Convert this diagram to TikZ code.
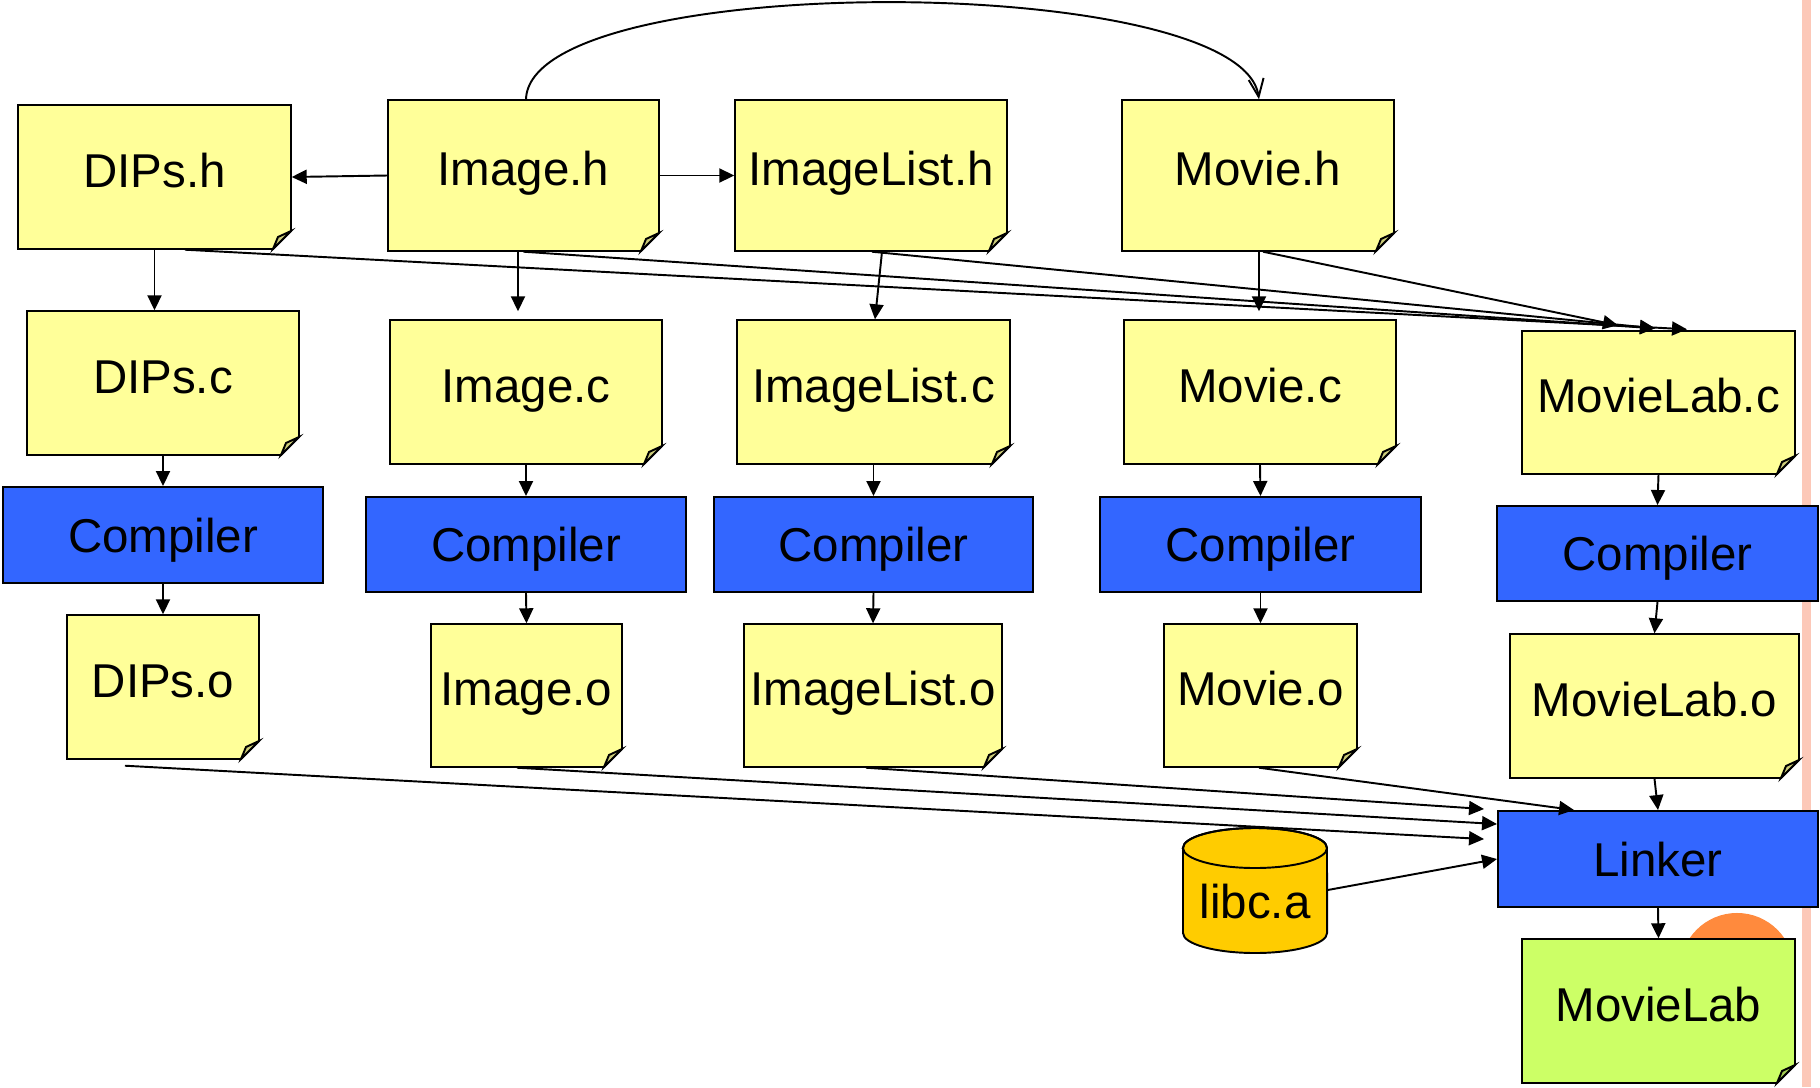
\documentclass[tikz,border=0pt]{standalone}
\usepackage{fontspec}
\setmainfont{Liberation Sans}
\usetikzlibrary{arrows.meta,calc}
\definecolor{noteY}{HTML}{FFFF99}
\definecolor{noteG}{HTML}{CCFF66}
\definecolor{procB}{HTML}{3366FF}
\definecolor{libcY}{HTML}{FFCC00}
\definecolor{orangeC}{HTML}{FF8A3D}
\definecolor{pinkband}{HTML}{FCC8B8}
\tikzset{
  boxline/.style={draw=black, line width=0.55pt, line join=miter},
  lbl/.style={inner sep=0pt, text height=9.7pt, text depth=0pt, font=\fontsize{13.5}{16}\selectfont},
  proc/.style={boxline, fill=procB, inner sep=0pt, text height=9.7pt, text depth=0pt, font=\fontsize{13.5}{16}\selectfont},
  link/.style={line width=0.55pt, -{Triangle[length=0.15cm,width=0.14cm]}},
  barb/.style={line width=0.55pt, -{Straight Barb[length=0.18cm,width=0.15cm]}},
}
% name, x1, y1, x2, y2, fill, text
\newcommand\notebox[7]{%
  \filldraw[boxline, fill=#6] (#2,#3) -- (#4,#3) -- (#4,{#5-18}) -- ({#4-18},#5) -- (#2,#5) -- cycle;
  \filldraw[boxline, fill=#6!80!black] ({#4-18},#5) -- ({#4-13},{#5-12}) -- (#4,{#5-18}) -- cycle;
  \node[inner sep=0pt, minimum width={(#4-#2)*0.01cm}, minimum height={(#5-#3)*0.01cm}] (#1) at ({(#2+#4)/2},{(#3+#5)/2}) {};
  \node[lbl] (#1-t) at ({(#2+#4)/2},{(#3+#5)/2-7}) {#7};
}
\newcommand\procnode[6]{%
  \node[proc, minimum width={(#4-#2)*0.01cm}, minimum height={(#5-#3)*0.01cm}] (#1) at ({(#2+#4)/2},{(#3+#5)/2}) {#6};
}
\begin{document}
\begin{tikzpicture}[x=0.01cm, y=-0.01cm]
\useasboundingbox (0,0) rectangle (1820,1087);
\fill[pinkband] (1802,0) rectangle (1811,1087);

% top row: headers
\notebox{dipsh}{18}{105}{291}{249}{noteY}{DIPs.h}
\notebox{imgh}{388}{100}{659}{251}{noteY}{Image.h}
\notebox{imglh}{735}{100}{1007}{251}{noteY}{ImageList.h}
\notebox{movh}{1122}{100}{1394}{251}{noteY}{Movie.h}

% sources
\notebox{dipsc}{27}{311}{299}{455}{noteY}{DIPs.c}
\notebox{imgc}{390}{320}{662}{464}{noteY}{Image.c}
\notebox{imglc}{737}{320}{1010}{464}{noteY}{ImageList.c}
\notebox{movc}{1124}{320}{1396}{464}{noteY}{Movie.c}
\notebox{mlc}{1522}{331}{1795}{474}{noteY}{MovieLab.c}

% compilers
\procnode{comp1}{3}{487}{323}{583}{Compiler}
\procnode{comp2}{366}{497}{686}{592}{Compiler}
\procnode{comp3}{714}{497}{1033}{592}{Compiler}
\procnode{comp4}{1100}{497}{1421}{592}{Compiler}
\procnode{comp5}{1497}{506}{1818}{601}{Compiler}

% objects
\notebox{dipso}{67}{615}{259}{759}{noteY}{DIPs.o}
\notebox{imgo}{431}{624}{622}{767}{noteY}{Image.o}
\notebox{imglo}{744}{624}{1002}{767}{noteY}{ImageList.o}
\notebox{movo}{1164}{624}{1357}{767}{noteY}{Movie.o}
\notebox{mlo}{1510}{634}{1799}{778}{noteY}{MovieLab.o}

% linker, library, result
\procnode{linker}{1498}{811}{1818}{907}{Linker}
\fill[orangeC] (1737,970) circle[radius=0.57cm];
\notebox{movielab}{1522}{939}{1795}{1083}{noteG}{MovieLab}

\filldraw[boxline, fill=libcY] (1183,848) -- (1183,933) arc[start angle=180, end angle=360, x radius=0.72cm, y radius=0.2cm] -- (1327,848) arc[start angle=0, end angle=180, x radius=0.72cm, y radius=0.2cm] -- cycle;
\draw[boxline] (1255,848) ellipse[x radius=0.72cm, y radius=0.2cm];
\node[inner sep=0pt, minimum width=1.44cm, minimum height=1.26cm] (libc) at (1255,890) {};
\node[lbl] (libc-t) at (1255,901) {libc.a};

% header connectors
\draw[link] (imgh.west) -- (dipsh.east);
\draw[link] (imgh.east) -- (imglh.west);
\draw[barb] ([xshift=0.025cm]imgh.north) .. controls +(4,-130) and +(-18,-128) .. ([xshift=0.01cm]movh.north);
\draw[link] (dipsh.south) -- (dipsh.south |- dipsc.north);
\draw[link] ([xshift=-0.055cm]imgh.south) -- ([xshift=-0.055cm,yshift=0.08cm]imgh.south |- imgc.north);
\draw[link] ([xshift=0.11cm]imglh.south) -- ([xshift=0.015cm]imglc.north);
\draw[link] ([xshift=0.01cm]movh.south) -- ([xshift=0.01cm,yshift=0.08cm]movh.south |- movc.north);

\draw[link] ([xshift=0.305cm]dipsh.south) -- ([xshift=0.285cm,yshift=0.01cm]mlc.north);
\draw[link] (imgh.south) -- ([xshift=-0.035cm,yshift=0.02cm]mlc.north);
\draw[link] ([xshift=0.01cm]imglh.south) -- ([xshift=-0.035cm,yshift=0.02cm]mlc.north);
\draw[link] ([xshift=0.05cm]movh.south) -- ([xshift=-0.405cm,yshift=0.05cm]mlc.north);

% columns
\draw[link] (dipsc.south) -- (comp1.north);
\draw[link] (comp1.south) -- (dipso.north);
\draw[link] (imgc.south) -- (comp2.north);
\draw[link] (comp2.south) -- (imgo.north);
\draw[link] (imglc.south) -- (comp3.north);
\draw[link] (comp3.south) -- (imglo.north);
\draw[link] (movc.south) -- (comp4.north);
\draw[link] (comp4.south) -- (movo.north);
\draw[link] (mlc.south) -- (comp5.north);
\draw[link] (comp5.south) -- (mlo.north);
\draw[link] (mlo.south) -- (linker.north);
\draw[link] (linker.south) -- (movielab.north);

% objects to linker
\draw[link] ([xshift=-0.38cm,yshift=-0.06cm]dipso.south) -- ([xshift=-0.13cm,yshift=-0.29cm]linker.north west);
\draw[link] ([xshift=-0.095cm]imgo.south) -- ([yshift=-0.14cm]linker.north west);
\draw[link] ([xshift=-0.07cm]imglo.south) -- ([xshift=-0.13cm,yshift=0.01cm]linker.north west);
\draw[link] ([xshift=-0.015cm]movo.south) -- ([xshift=0.77cm]linker.north west);
\draw[link] (libc.east) -- (linker.west);
\end{tikzpicture}
\end{document}
